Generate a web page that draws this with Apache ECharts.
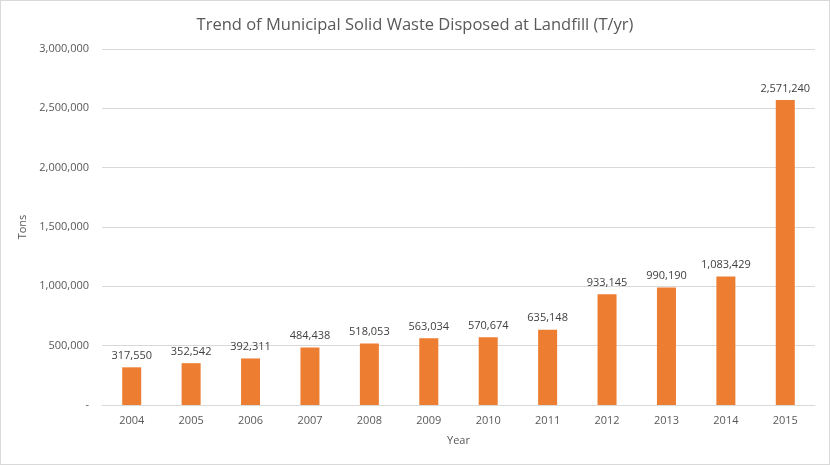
<!DOCTYPE html>
<html>
<head>
<meta charset="utf-8">
<script src="https://cdn.jsdelivr.net/npm/echarts@6/dist/echarts.min.js"></script>
<style>
html,body{margin:0;padding:0;background:#fff;}
#c{width:828px;height:463px;border:1px solid #d9d9d9;}
</style>
</head>
<body>
<div id="c"></div>
<script>
const years = ['2004','2005','2006','2007','2008','2009','2010','2011','2012','2013','2014','2015'];
const tons = [317550,352542,392311,484438,518053,563034,570674,635148,933145,990190,1083429,2571240];
const titleText = 'Trend of Municipal Solid Waste Disposed at Landfill (T/yr)';
const fmt = v => v === 0 ? '-' : v.toLocaleString('en-US');
const chart = echarts.init(document.getElementById('c'));
chart.setOption({
  animation:false,
  textStyle:{fontFamily:'Open Sans'},
  title:{text:titleText,left:'center',top:11,textStyle:{fontSize:16.5,fontWeight:'normal',color:'#595959',fontFamily:'Open Sans'}},
  grid:{left:101,right:14,top:48,bottom:59},
  xAxis:{type:'category',data:years,name:'Year',nameLocation:'middle',nameGap:30,
    nameTextStyle:{fontSize:11,color:'#595959'},
    axisLine:{lineStyle:{color:'#d9d9d9'}},axisTick:{show:false},
    axisLabel:{fontSize:11,color:'#595959',margin:10}},
  yAxis:{type:'value',min:0,max:3000000,interval:500000,name:'Tons',nameLocation:'middle',nameGap:60,nameRotate:90,
    nameTextStyle:{fontSize:11,color:'#595959'},
    axisLine:{show:false},axisTick:{show:false},
    splitLine:{lineStyle:{color:'#d9d9d9'}},
    axisLabel:{fontSize:11,color:'#595959',margin:13,formatter:fmt}},
  series:[{type:'bar',data:tons,barWidth:19,itemStyle:{color:'#ED7D31'},
    label:{show:true,position:'top',distance:6,fontSize:11,color:'#404040',formatter:p=>fmt(p.value)}}]
});
</script>
</body>
</html>
